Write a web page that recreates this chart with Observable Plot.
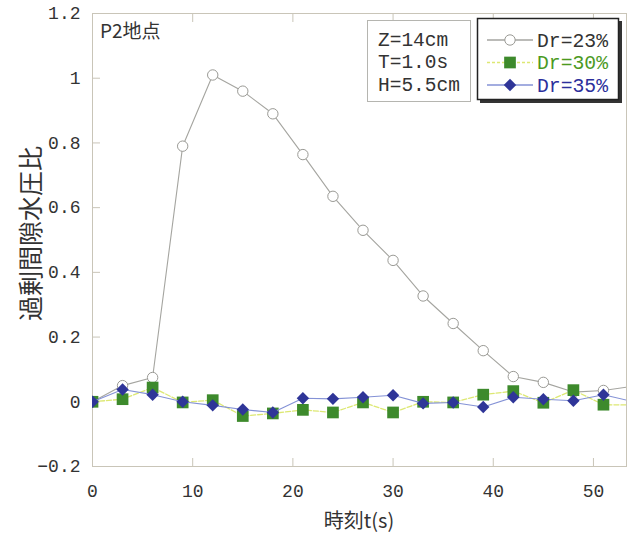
<!DOCTYPE html>
<html>
<head>
<meta charset="utf-8">
<script src="https://cdn.jsdelivr.net/npm/d3@7"></script>
<script src="https://cdn.jsdelivr.net/npm/@observablehq/plot@0.6"></script>
<style>
  html, body { margin: 0; padding: 0; background: #fff; overflow: hidden; }
  #chart svg { display: block; }
</style>
</head>
<body>
<div id="chart"></div>
<script>
// ---- data ----
const times = [0, 3, 6, 9, 12, 15, 18, 21, 24, 27, 30, 33, 36, 39, 42, 45, 48, 51, 54];
const dr23 = [0, 0.05, 0.075, 0.79, 1.01, 0.96, 0.89, 0.764, 0.635, 0.53, 0.437, 0.327, 0.242, 0.158, 0.078, 0.06, 0.03, 0.035, 0.048];
const dr30 = [0, 0.008, 0.044, -0.002, 0.005, -0.044, -0.036, -0.025, -0.033, -0.002, -0.033, 0, -0.002, 0.022, 0.033, -0.003, 0.036, -0.009, -0.01];
const dr35 = [0, 0.038, 0.022, 0, -0.011, -0.024, -0.033, 0.011, 0.009, 0.014, 0.02, -0.005, -0.002, -0.016, 0.014, 0.008, 0.003, 0.022, 0.0];
const seriesNames = ["Dr=23%", "Dr=30%", "Dr=35%"];
const xTicks = [0, 10, 20, 30, 40, 50];
const yTicks = [-0.2, 0, 0.2, 0.4, 0.6, 0.8, 1, 1.2];
const siteLabel = "P2地点";
const conditions = ["Z=14cm", "T=1.0s", "H=5.5cm"];
const xLabel = "時刻t(s)";
const yLabel = "過剰間隙水圧比";

const rows = (vals) => times.map((t, i) => ({t, v: vals[i]}));
const d23 = rows(dr23), d30 = rows(dr30), d35 = rows(dr35);

const frameColor = "#c9c5b8";
const monoFont = "'Liberation Mono', 'DejaVu Sans Mono', monospace";
const jpFont = "'Noto Sans CJK JP', 'Noto Sans', sans-serif";

const plot = Plot.plot({
  width: 631,
  height: 537,
  marginLeft: 92,
  marginRight: 5,
  marginTop: 13,
  marginBottom: 71,
  style: {background: "#fff", fontFamily: monoFont, fontSize: "18px", color: "#333"},
  x: {domain: [0, 53.3], ticks: xTicks, label: null},
  y: {domain: [-0.2, 1.2], ticks: yTicks, label: null},
  marks: [
    Plot.frame({stroke: frameColor}),
    Plot.axisY({anchor: "left", ticks: yTicks, tickSize: -8, tickPadding: 20, stroke: frameColor,
      tickFormat: d => (d === 0 || d === 1) ? String(d) : d3.format(".1f")(d), label: null, fill: "#333"}),
    Plot.axisX({anchor: "bottom", ticks: xTicks, tickSize: -8, tickPadding: 26, stroke: frameColor, label: null, fill: "#333"}),
    Plot.axisX({anchor: "top", ticks: xTicks, tickSize: -8, stroke: frameColor, tickFormat: () => "", label: null}),
    Plot.line(d23, {x: "t", y: "v", stroke: "#a5a5a0", strokeWidth: 1.1, clip: true}),
    Plot.dot(d23, {x: "t", y: "v", r: 5.2, fill: "#fff", stroke: "#9a9a95", strokeWidth: 1, clip: true}),
    Plot.line(d30, {x: "t", y: "v", stroke: "#dde873", strokeWidth: 1.3, strokeDasharray: "5,2", clip: true}),
    Plot.dot(d30, {x: "t", y: "v", symbol: "square", r: 6.6, fill: "#3d8a2c", stroke: "none", clip: true}),
    Plot.line(d35, {x: "t", y: "v", stroke: "#8492d6", strokeWidth: 1.1, clip: true}),
    Plot.dot(d35, {x: "t", y: "v", symbol: "diamond2", r: 5.6, fill: "#2f3598", stroke: "none", clip: true})
  ]
});

document.getElementById("chart").appendChild(plot);

// ---- annotations (text, legend) added to the SVG ----
const svg = d3.select(plot);
const xs = plot.scale("x"), ys = plot.scale("y");

// axis titles
svg.append("text")
  .attr("transform", `translate(33, ${(ys.apply(1.2) + ys.apply(-0.2)) / 2 - 6}) rotate(-90)`)
  .attr("text-anchor", "middle").attr("dominant-baseline", "middle")
  .attr("font-family", jpFont).attr("font-size", 25).attr("fill", "#333")
  .text(yLabel);

svg.append("text")
  .attr("x", (xs.apply(0) + 626) / 2).attr("y", 523)
  .attr("text-anchor", "middle").attr("dominant-baseline", "middle")
  .attr("font-family", jpFont).attr("font-size", 20).attr("fill", "#333")
  .text(xLabel);

// site label
svg.append("text")
  .attr("x", 100).attr("y", 33)
  .attr("text-anchor", "start").attr("dominant-baseline", "middle")
  .attr("font-family", jpFont).attr("font-size", 19).attr("fill", "#333")
  .text(siteLabel);

// conditions box
const cb = svg.append("g");
cb.append("rect").attr("x", 367.5).attr("y", 20.5).attr("width", 103).attr("height", 81)
  .attr("fill", "#fff").attr("stroke", "#b5b5b0").attr("stroke-width", 1);
conditions.forEach((c, i) => {
  cb.append("text").attr("x", 378).attr("y", 40 + i * 22.5)
    .attr("text-anchor", "start").attr("dominant-baseline", "middle")
    .attr("font-family", monoFont).attr("font-size", 21).attr("fill", "#333")
    .attr("textLength", c.length * 11.7).attr("lengthAdjust", "spacingAndGlyphs")
    .text(c);
});

// legend box
const lg = svg.append("g");
lg.append("rect").attr("x", 480).attr("y", 21).attr("width", 142).attr("height", 82).attr("fill", "#333");
lg.append("rect").attr("x", 477.5).attr("y", 18.5).attr("width", 141).attr("height", 81)
  .attr("fill", "#fff").attr("stroke", "#222").attr("stroke-width", 1.5);
const legendItems = [
  {name: seriesNames[0], line: "#a5a5a0", dash: null, symbol: d3.symbolCircle, size: Math.PI * 5.2 * 5.2, fill: "#fff", stroke: "#9a9a95", text: "#333"},
  {name: seriesNames[1], line: "#dde873", dash: "3,2", symbol: d3.symbolSquare, size: Math.PI * 6.6 * 6.6, fill: "#3d8a2c", stroke: "none", text: "#4c9a1f"},
  {name: seriesNames[2], line: "#8492d6", dash: null, symbol: d3.symbolDiamond2, size: Math.PI * 5.6 * 5.6, fill: "#2f3598", stroke: "none", text: "#2c2f9c"}
];
legendItems.forEach((it, i) => {
  const cy = 40 + i * 22.5;
  lg.append("line").attr("x1", 487).attr("x2", 533).attr("y1", cy).attr("y2", cy)
    .attr("stroke", it.line).attr("stroke-width", 1.3).attr("stroke-dasharray", it.dash);
  lg.append("path").attr("d", d3.symbol(it.symbol, it.size)())
    .attr("transform", `translate(510, ${cy})`)
    .attr("fill", it.fill).attr("stroke", it.stroke);
  lg.append("text").attr("x", 537).attr("y", cy + 1)
    .attr("text-anchor", "start").attr("dominant-baseline", "middle")
    .attr("font-family", monoFont).attr("font-size", 21).attr("fill", it.text)
    .attr("textLength", 71).attr("lengthAdjust", "spacingAndGlyphs")
    .text(it.name);
});
</script>
</body>
</html>
